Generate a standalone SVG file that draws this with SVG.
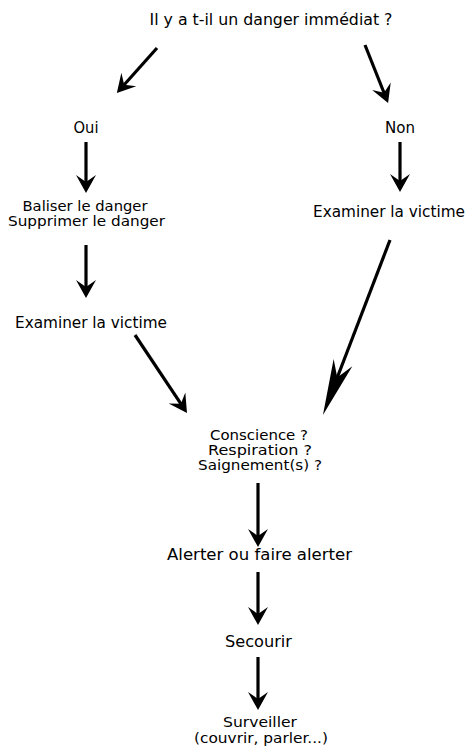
<svg xmlns="http://www.w3.org/2000/svg" width="466" height="749" viewBox="0 0 466 749">
<style>
text{font-family:"DejaVu Sans","Liberation Sans",sans-serif;font-size:15.5px;fill:#000;text-anchor:middle}
text.m{font-size:14px}
.c line{stroke:#000;stroke-width:3.2;fill:none}
</style>
<defs>
<marker id="ah" markerUnits="userSpaceOnUse" viewBox="-20 -11 22 22" markerWidth="22" markerHeight="22" refX="-7" refY="0" orient="auto">
<path d="M0,0 L-18,-10 L-11,0 L-18,10 Z" fill="#000"/>
</marker>
<marker id="ahl" markerUnits="userSpaceOnUse" viewBox="-60 -12 62 24" markerWidth="62" markerHeight="24" refX="-20" refY="0" orient="auto">
<path d="M0,0 L-56,-10 L-40,0 L-56,10 Z" fill="#000"/>
</marker>
</defs>
<rect width="466" height="749" fill="#fff"/>
<g id="n-question"><text x="271" y="25" textLength="243" lengthAdjust="spacingAndGlyphs">Il y a t-il un danger immédiat ?</text></g>
<g id="n-oui"><text x="86" y="133" textLength="25" lengthAdjust="spacingAndGlyphs">Oui</text></g>
<g id="n-non"><text x="400" y="133" textLength="30" lengthAdjust="spacingAndGlyphs">Non</text></g>
<g id="n-baliser"><text class="m" x="85" y="210.5" textLength="125" lengthAdjust="spacingAndGlyphs">Baliser le danger</text><text class="m" x="86.5" y="225.5" textLength="157" lengthAdjust="spacingAndGlyphs">Supprimer le danger</text></g>
<g id="n-examiner-g"><text x="91" y="328" textLength="152" lengthAdjust="spacingAndGlyphs">Examiner la victime</text></g>
<g id="n-examiner-d"><text x="389" y="217" textLength="152" lengthAdjust="spacingAndGlyphs">Examiner la victime</text></g>
<g id="n-bilan"><text class="m" x="259" y="440" textLength="98" lengthAdjust="spacingAndGlyphs">Conscience ?</text><text class="m" x="260" y="455" textLength="104" lengthAdjust="spacingAndGlyphs">Respiration ?</text><text class="m" x="260" y="470" textLength="124" lengthAdjust="spacingAndGlyphs">Saignement(s) ?</text></g>
<g id="n-alerter"><text x="259.5" y="560" textLength="185" lengthAdjust="spacingAndGlyphs">Alerter ou faire alerter</text></g>
<g id="n-secourir"><text x="258.5" y="647" textLength="67" lengthAdjust="spacingAndGlyphs">Secourir</text></g>
<g id="n-surveiller"><text class="m" x="260" y="727" textLength="74" lengthAdjust="spacingAndGlyphs">Surveiller</text><text class="m" x="261" y="743" textLength="134" lengthAdjust="spacingAndGlyphs">(couvrir, parler...)</text></g>
<g id="connectors" class="c">
<line x1="157" y1="48" x2="121.5" y2="87.7" marker-end="url(#ah)"/>
<line x1="365" y1="45" x2="385.5" y2="96.5" marker-end="url(#ah)"/>
<line x1="86" y1="142" x2="86" y2="186" marker-end="url(#ah)"/>
<line x1="400" y1="142" x2="400" y2="185" marker-end="url(#ah)"/>
<line x1="86" y1="245" x2="86" y2="291" marker-end="url(#ah)"/>
<line x1="390" y1="240" x2="330.1" y2="396.3" marker-end="url(#ahl)"/>
<line x1="135" y1="335" x2="183.1" y2="407.2" marker-end="url(#ah)"/>
<line x1="258" y1="483" x2="258" y2="540" marker-end="url(#ah)"/>
<line x1="258" y1="572" x2="258" y2="618" marker-end="url(#ah)"/>
<line x1="258" y1="657" x2="258" y2="703" marker-end="url(#ah)"/>
</g>
</svg>
